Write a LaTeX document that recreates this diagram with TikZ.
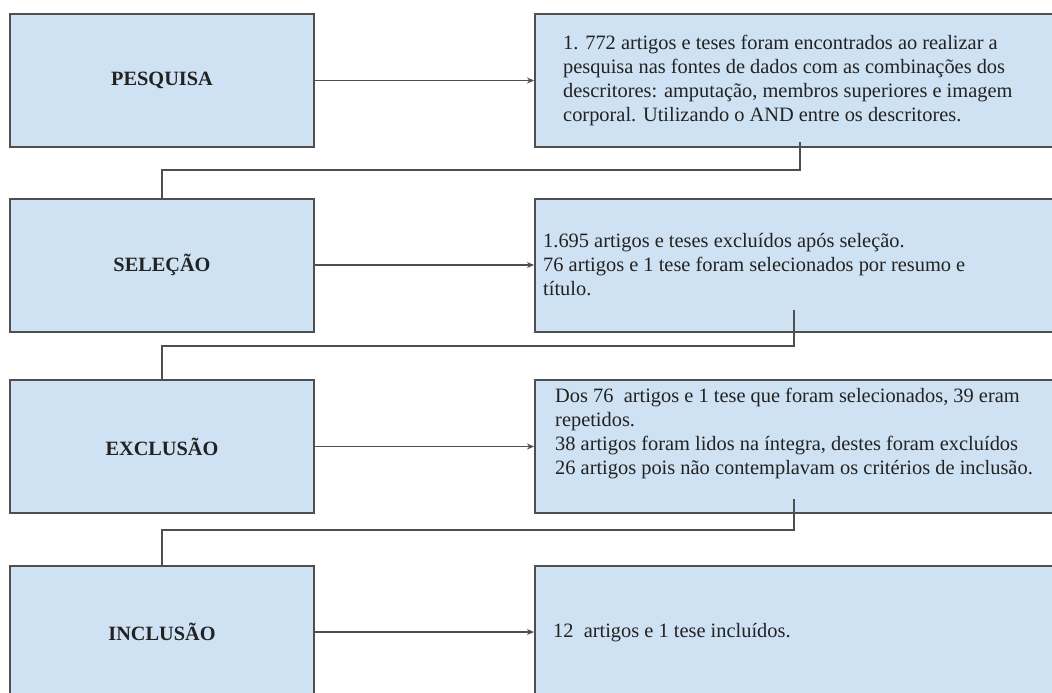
\documentclass[tikz,border=0pt]{standalone}
\usepackage{fontspec}
\setmainfont{Liberation Serif}
\usetikzlibrary{arrows.meta}
\definecolor{boxblue}{HTML}{CFE2F3}
\definecolor{edgegray}{HTML}{4F4F4F}
\definecolor{inkgray}{HTML}{222222}
\tikzset{
  stage/.style={draw=edgegray,line width=2pt,fill=boxblue,minimum width=304pt,
    minimum height=133pt,inner sep=0pt,font=\fontsize{20.3}{24}\selectfont\bfseries,text=inkgray},
  info/.style={draw=edgegray,line width=2pt,fill=boxblue,minimum width=540pt,
    minimum height=133pt,inner sep=0pt},
  note/.style={anchor=west,align=left,inner sep=0pt,font=\fontsize{20.4}{24}\selectfont,text=inkgray},
  link/.style={draw=edgegray,line width=1.6pt},
}
\begin{document}
\begin{tikzpicture}[x=1pt,y=-1pt,>={Stealth[length=7pt,width=6pt]}]
  \clip (0,0) rectangle (1052,693);
  \fill[white] (0,0) rectangle (1052,693);
  % left column: stages
  \node[stage] (l1) at (162,80.5) {PESQUISA};
  \node[stage] (l2) at (162,265) {SELEÇÃO};
  \node[stage] (l3) at (162,446.5) {EXCLUSÃO};
  \node[stage] (l4) at (162,632) {INCLUSÃO};
  % right column: results
  \node[info] (r1) at (805,80.5) {};
  \node[info] (r2) at (805,265) {};
  \node[info] (r3) at (805,446.5) {};
  \node[info] (r4) at (805,632) {};
  \node[note] (t1) at (563,80) {1. 772 artigos e teses foram encontrados ao realizar a\\
    pesquisa nas fontes de dados com as combinações dos\\
    descritores: amputação, membros superiores e imagem\\
    corporal. Utilizando o AND entre os descritores.};
  \node[note] (t2) at (543,265) {1.695 artigos e teses excluídos após seleção.\\
    76 artigos e 1 tese foram selecionados por resumo e\\
    título.};
  \node[note] (t3) at (555,434) {Dos 76\ \ artigos e 1 tese que foram selecionados, 39 eram\\
    repetidos.\\
    38 artigos foram lidos na íntegra, destes foram excluídos\\
    26 artigos pois não contemplavam os critérios de inclusão.};
  \node[note] (t4) at (553,633) {12\ \ artigos e 1 tese incluídos.};
  % arrows
  \draw[link,->] (l1) -- (r1);
  \draw[link,->] (l2) -- (r2);
  \draw[link,->] (l3) -- (r3);
  \draw[link,->] (l4) -- (r4);
  % elbow connectors
  \coordinate (c1) at (800,142);
  \coordinate (c2) at (794,310);
  \coordinate (c3) at (794,499);
  \draw[link] (c1) -- ++(0,28) -| (l2.north);
  \draw[link] (c2) -- ++(0,36) -| (l3.north);
  \draw[link] (c3) -- ++(0,31) -| (l4.north);
\end{tikzpicture}
\end{document}
